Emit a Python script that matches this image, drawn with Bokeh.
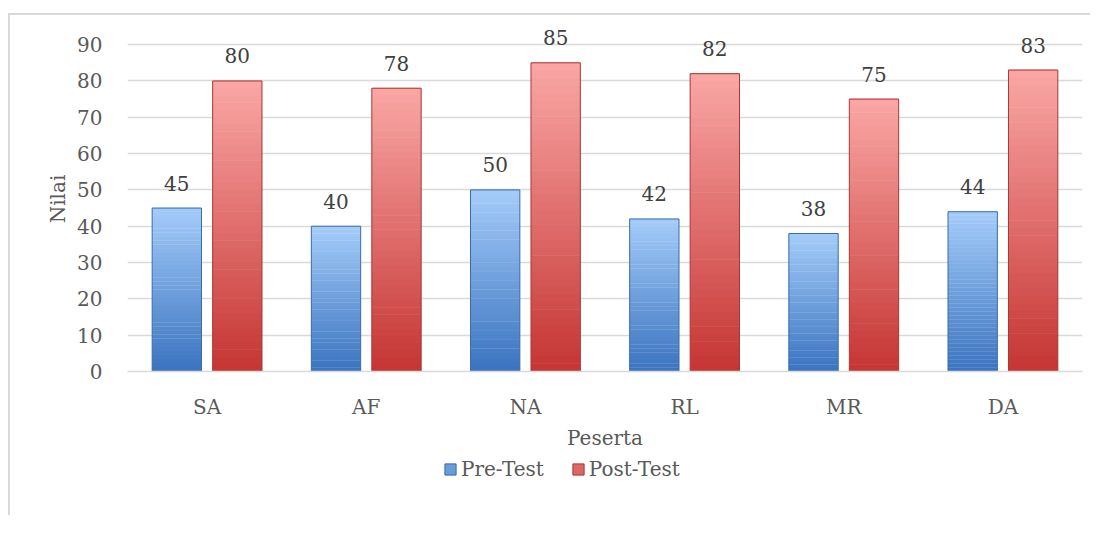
from bokeh.plotting import figure
from bokeh.layouts import column
from bokeh.models import (FactorRange, ColumnDataSource, Legend, LegendItem, Range1d)
from bokeh.transform import dodge
from bokeh.core.properties import value
from bokeh.embed import file_html
from bokeh.resources import INLINE

categories = ["SA", "AF", "NA", "RL", "MR", "DA"]
pre_test = [45, 40, 50, 42, 38, 44]
post_test = [80, 78, 85, 82, 75, 83]
series_names = ["Pre-Test", "Post-Test"]
y_ticks = [0, 10, 20, 30, 40, 50, 60, 70, 80, 90]

FONT = "DejaVu Serif"
TXT = "#595959"
GRID = "#D9D9D9"

p = figure(x_range=FactorRange(*categories), y_range=Range1d(0, 95),
           width=1080, height=440, output_backend="svg", toolbar_location=None,
           min_border_left=117, min_border_right=8, min_border_top=11,
           min_border_bottom=84)
p.outline_line_color = None
p.background_fill_color = "white"
p.border_fill_color = "white"


def lerp(c1, c2, t):
    a = [int(c1[i:i + 2], 16) for i in (1, 3, 5)]
    b = [int(c2[i:i + 2], 16) for i in (1, 3, 5)]
    return "#%02x%02x%02x" % tuple(round(a[k] + (b[k] - a[k]) * t) for k in range(3))


N = 40
styles = [
    (pre_test, -0.19, "#3B74C0", "#A3CBF9", "#3A6CA8"),
    (post_test, 0.19, "#C53634", "#F9A6A4", "#A83836"),
]
for vals, off, c_bot, c_top, c_edge in styles:
    xs, bots, tops, cols = [], [], [], []
    for cat, v in zip(categories, vals):
        for i in range(N):
            xs.append(cat)
            bots.append(v * i / N)
            tops.append(v * (i + 1) / N + v * 0.002)
            cols.append(lerp(c_bot, c_top, i / (N - 1)))
    src = ColumnDataSource(dict(x=xs, bottom=bots, top=tops, color=cols))
    p.vbar(x=dodge("x", off, range=p.x_range), bottom="bottom", top="top",
           width=0.31, source=src, fill_color="color", line_color=None)
    osrc = ColumnDataSource(dict(x=categories, top=vals, lab=[str(v) for v in vals]))
    p.vbar(x=dodge("x", off, range=p.x_range), top="top", width=0.31,
           source=osrc, fill_alpha=0, line_color=c_edge, line_width=1)
    p.text(x=dodge("x", off, range=p.x_range), y="top", text="lab", source=osrc,
           text_align="center", text_baseline="middle", y_offset=-25,
           text_font=value(FONT), text_font_size="20px", text_color="#404040")

# axes
p.yaxis.ticker = y_ticks
p.yaxis.axis_line_color = None
p.yaxis.major_tick_line_color = None
p.yaxis.minor_tick_line_color = None
p.yaxis.major_label_standoff = 19
p.yaxis.major_label_text_font = FONT
p.yaxis.major_label_text_font_size = "20px"
p.yaxis.major_label_text_color = TXT
p.yaxis.axis_label = "Nilai"
p.yaxis.axis_label_text_font = FONT
p.yaxis.axis_label_text_font_size = "20px"
p.yaxis.axis_label_text_font_style = "normal"
p.yaxis.axis_label_text_color = TXT
p.yaxis.axis_label_standoff = 4

p.xaxis.axis_line_color = GRID
p.xaxis.axis_line_width = 1.5
p.xaxis.major_tick_line_color = None
p.xaxis.minor_tick_line_color = None
p.xaxis.major_label_standoff = 17
p.xaxis.major_label_text_font = FONT
p.xaxis.major_label_text_font_size = "20px"
p.xaxis.major_label_text_color = TXT
p.xaxis.axis_label = "Peserta"
p.xaxis.axis_label_text_font = FONT
p.xaxis.axis_label_text_font_size = "20px"
p.xaxis.axis_label_text_font_style = "normal"
p.xaxis.axis_label_text_color = TXT
p.xaxis.axis_label_standoff = 4

p.xgrid.grid_line_color = None
p.ygrid.grid_line_color = GRID
p.ygrid.grid_line_width = 1.5
p.ygrid.ticker = y_ticks

# legend strip (proxy glyphs with no drawable extent)
nan = float("nan")
lf = figure(width=1080, height=60, output_backend="svg", toolbar_location=None,
            min_border=0, x_range=Range1d(0, 1), y_range=Range1d(0, 1))
lf.outline_line_color = None
lf.axis.visible = False
lf.grid.visible = False
legend_renderers = []
for vals, off, c_bot, c_top, c_edge in styles:
    legend_renderers.append(lf.vbar(x=[0.5], top=[nan], bottom=[nan], width=0.1,
                                    fill_color=lerp(c_bot, c_top, 0.45), line_color=c_edge))
items = [LegendItem(label=n, renderers=[r]) for n, r in zip(series_names, legend_renderers)]
legend = Legend(items=items, orientation="horizontal", location=(316, 34),
                glyph_width=14, glyph_height=14, label_standoff=4, spacing=27,
                padding=0, margin=0, border_line_color=None, background_fill_alpha=0,
                label_text_font=FONT, label_text_font_size="20px", label_text_color=TXT)
lf.add_layout(legend, "center")

layout = column(p, lf, spacing=0)
layout.styles = {"border-left": "2px solid #d9d9d9", "border-top": "2px solid #d9d9d9",
                 "margin-top": "13px", "margin-left": "8px"}

open("out.html", "w").write(file_html(layout, INLINE))
